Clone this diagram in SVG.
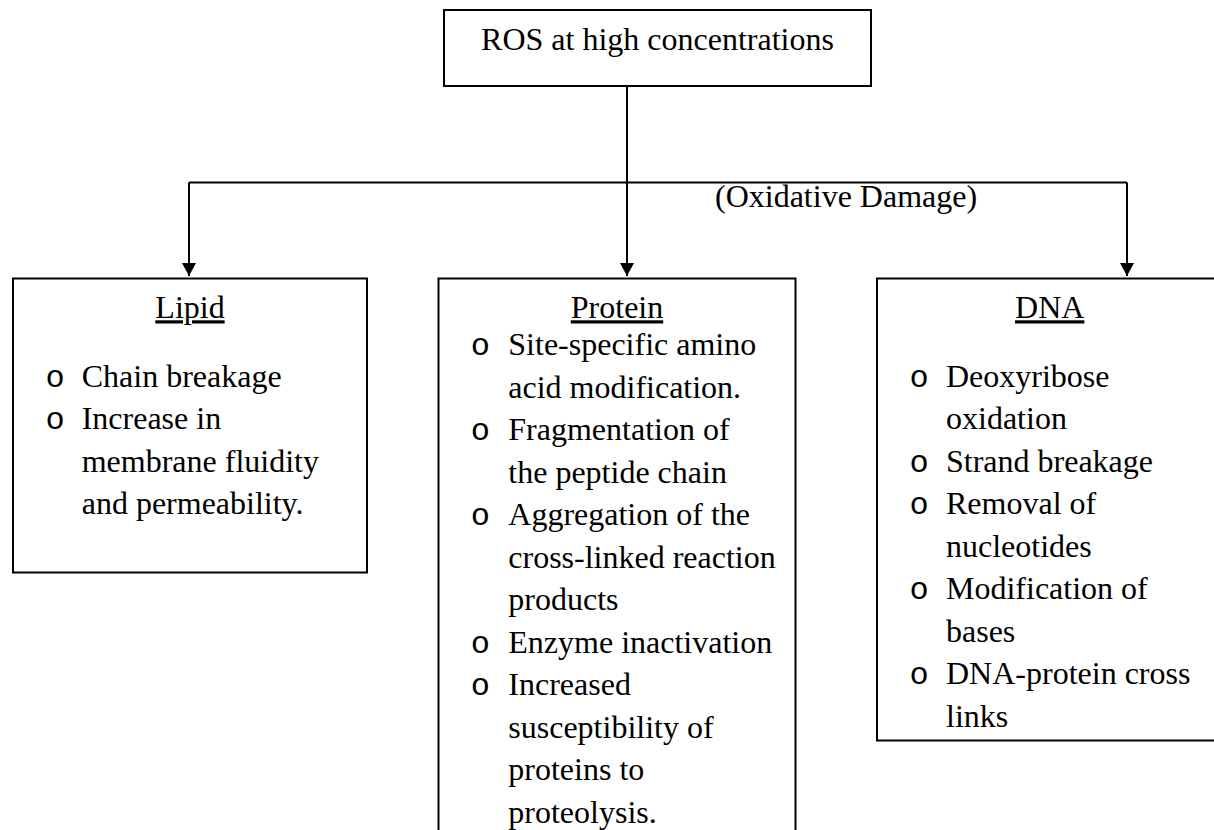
<svg xmlns="http://www.w3.org/2000/svg" width="1214" height="830" viewBox="0 0 1214 830">
  <defs>
    <style>
      .box { fill: #ffffff; stroke: #000000; stroke-width: 2; }
      .t { font-family: "Liberation Serif", "Times New Roman", serif; font-size: 32px; fill: #000000; }
      .title { text-anchor: middle; text-decoration: underline; }
      .b { font-family: "Liberation Mono", "Courier New", monospace; font-size: 32px; fill: #000000; text-anchor: middle; }
      .conn { fill: none; stroke: #000000; stroke-width: 2; }
    </style>
    <marker id="arrow" viewBox="0 0 13 14" refX="13" refY="7" markerWidth="13" markerHeight="14" markerUnits="userSpaceOnUse" orient="auto">
      <path d="M0,0 L13,7 L0,14 Z" fill="#000000"/>
    </marker>
  </defs>
  <rect width="1214" height="830" fill="#ffffff"/>

  <g id="connectors">
    <path class="conn" d="M627,86 V276" marker-end="url(#arrow)"/>
    <path class="conn" d="M189,182.5 H1127"/>
    <path class="conn" d="M189,182.5 V276" marker-end="url(#arrow)"/>
    <path class="conn" d="M1127,182.5 V276" marker-end="url(#arrow)"/>
    <text class="t" x="715" y="206.5">(Oxidative Damage)</text>
  </g>

  <g id="ros">
    <rect class="box" x="444" y="10" width="427" height="76"/>
    <text class="t" x="657.5" y="50" text-anchor="middle">ROS at high concentrations</text>
  </g>

  <g id="lipid">
    <rect class="box" x="13" y="278.5" width="354" height="294"/>
    <text class="t title" x="190" y="318.3">Lipid</text>
    <text class="b" x="55" y="386.7">o</text>
    <text class="t" x="81.7" y="386.7">Chain breakage</text>
    <text class="b" x="55" y="429.2">o</text>
    <text class="t" x="81.7" y="429.2">Increase in</text>
    <text class="t" x="81.7" y="471.7">membrane fluidity</text>
    <text class="t" x="81.7" y="514.2">and permeability.</text>
  </g>

  <g id="protein">
    <rect class="box" x="438.5" y="278.5" width="357" height="570"/>
    <text class="t title" x="617" y="318.3">Protein</text>
    <text class="b" x="480.3" y="355">o</text>
    <text class="t" x="508.3" y="355">Site-specific amino</text>
    <text class="t" x="508.3" y="397.5">acid modification.</text>
    <text class="b" x="480.3" y="440">o</text>
    <text class="t" x="508.3" y="440">Fragmentation of</text>
    <text class="t" x="508.3" y="482.5">the peptide chain</text>
    <text class="b" x="480.3" y="525">o</text>
    <text class="t" x="508.3" y="525">Aggregation of the</text>
    <text class="t" x="508.3" y="567.5">cross-linked reaction</text>
    <text class="t" x="508.3" y="610">products</text>
    <text class="b" x="480.3" y="652.5">o</text>
    <text class="t" x="508.3" y="652.5">Enzyme inactivation</text>
    <text class="b" x="480.3" y="695">o</text>
    <text class="t" x="508.3" y="695">Increased</text>
    <text class="t" x="508.3" y="737.5">susceptibility of</text>
    <text class="t" x="508.3" y="780">proteins to</text>
    <text class="t" x="508.3" y="822.5">proteolysis.</text>
  </g>

  <g id="dna">
    <rect class="box" x="877" y="278.5" width="346" height="462"/>
    <text class="t title" x="1049.7" y="318.3">DNA</text>
    <text class="b" x="919.2" y="386.7">o</text>
    <text class="t" x="946" y="386.7">Deoxyribose</text>
    <text class="t" x="946" y="429.2">oxidation</text>
    <text class="b" x="919.2" y="471.7">o</text>
    <text class="t" x="946" y="471.7">Strand breakage</text>
    <text class="b" x="919.2" y="514.2">o</text>
    <text class="t" x="946" y="514.2">Removal of</text>
    <text class="t" x="946" y="556.7">nucleotides</text>
    <text class="b" x="919.2" y="599.2">o</text>
    <text class="t" x="946" y="599.2">Modification of</text>
    <text class="t" x="946" y="641.7">bases</text>
    <text class="b" x="919.2" y="684.2">o</text>
    <text class="t" x="946" y="684.2">DNA-protein cross</text>
    <text class="t" x="946" y="726.7">links</text>
  </g>
</svg>
